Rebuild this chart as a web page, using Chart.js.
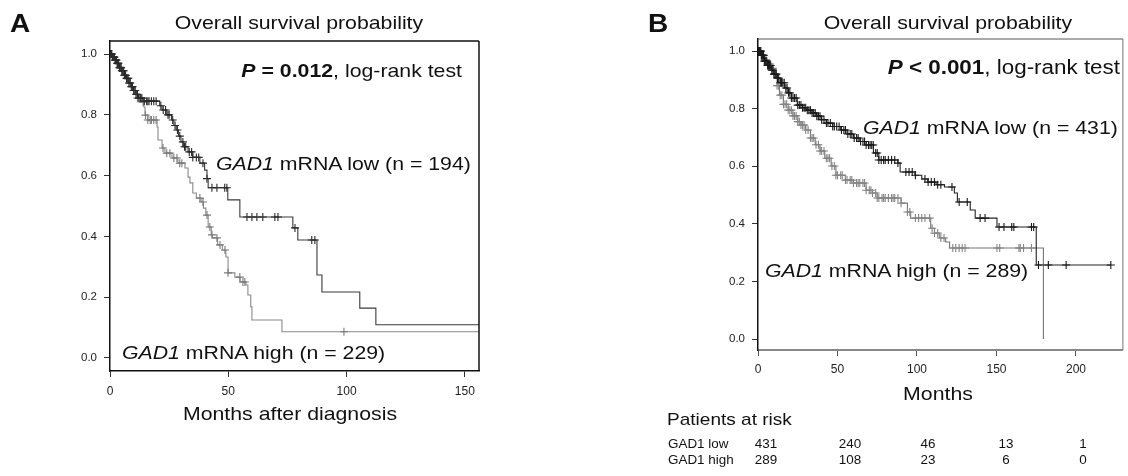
<!DOCTYPE html>
<html><head><meta charset="utf-8">
<script src="https://cdn.jsdelivr.net/npm/chart.js@4.4.1/dist/chart.umd.min.js"></script>
<style>
body{margin:0;width:1128px;height:476px;background:#fff;position:relative;overflow:hidden;font-family:'Liberation Sans',Arial,sans-serif;color:#111}
canvas{position:absolute;top:0}
#ca{left:0}
#cb{left:564px}
.t{position:absolute;white-space:nowrap;line-height:1;font-size:19px}
.l{transform-origin:0 50%;transform:translateY(-50%) scaleX(1.12)}
.c{transform-origin:50% 50%;transform:translate(-50%,-50%) scaleX(1.12)}
.r{transform-origin:100% 50%;transform:translate(-100%,-50%) scaleX(1.12)}
.big{font-weight:bold;font-size:25px}
.sm{font-size:12px}
</style>
</head><body>
<canvas id="ca" width="564" height="476"></canvas>
<canvas id="cb" width="564" height="476"></canvas>

<div class="t l big" style="left:10px;top:22.5px">A</div>
<div class="t c" style="left:299px;top:21.5px">Overall survival probability</div>
<div class="t r" style="left:462px;top:70px"><b><i>P</i> = 0.012</b>, log-rank test</div>
<div class="t l" style="left:216px;top:162.5px"><i>GAD1</i> mRNA low (n = 194)</div>
<div class="t l" style="left:122px;top:352px"><i>GAD1</i> mRNA high (n = 229)</div>
<div class="t c" style="left:290px;top:412.5px">Months after diagnosis</div>

<div class="t l big" style="left:648px;top:22.5px">B</div>
<div class="t c" style="left:947.5px;top:21.5px">Overall survival probability</div>
<div class="t r" style="left:1120px;top:67px;font-size:20px"><b><i>P</i> &lt; 0.001</b>, log-rank test</div>
<div class="t l" style="left:863px;top:127px"><i>GAD1</i> mRNA low (n = 431)</div>
<div class="t l" style="left:765px;top:269.5px"><i>GAD1</i> mRNA high (n = 289)</div>
<div class="t c" style="left:937.5px;top:392.5px">Months</div>
<div class="t l" style="left:667px;top:418.5px;font-size:17px">Patients at risk</div>
<div id="risk"></div>

<script>
// ---------------- Panel A data ----------------
const aXTicks = [0, 50, 100, 150];
const aYTicks = [0, 0.2, 0.4, 0.6, 0.8, 1.0];
const aLow = [[0,1],[1,0.99],[2,0.98],[3,0.97],[4,0.955],[5,0.945],[6,0.93],[7,0.92],[8,0.905],[9,0.893],[10,0.88],[11,0.868],[12,0.855],[14,0.845],[21,0.83],[22,0.816],[24,0.8],[26,0.783],[27,0.765],[28,0.75],[29,0.73],[30,0.711],[31,0.695],[33,0.678],[35,0.66],[38,0.641],[40,0.618],[41,0.59],[41.5,0.56],[49.8,0.52],[54.9,0.464],[77.3,0.428],[79.4,0.388],[87.5,0.273],[89.6,0.217],[105.6,0.164],[112.4,0.109],[156,0.109]];
const aHigh = [[0,1],[1,0.99],[2,0.98],[3,0.97],[4,0.955],[5,0.945],[6,0.93],[7,0.92],[8,0.905],[9,0.893],[10,0.88],[11,0.868],[11.4,0.855],[13.9,0.842],[14.3,0.826],[14.8,0.799],[16,0.783],[19.9,0.76],[20.3,0.717],[22,0.691],[23.2,0.674],[26.2,0.658],[28.7,0.641],[31.7,0.625],[33,0.595],[33.8,0.576],[35,0.543],[36.5,0.526],[38.5,0.513],[39.5,0.493],[40.5,0.47],[41.5,0.431],[42.8,0.405],[43.3,0.395],[45.5,0.372],[47.5,0.355],[49,0.332],[49.9,0.28],[52.8,0.266],[55,0.25],[57.5,0.24],[58.3,0.207],[59.5,0.168],[60,0.125],[72.7,0.086],[156,0.086]];
const aLowCensor = [0.2,0.4,0.6,0.8,1,1.2,1.4,1.6,1.8,2.1,2.4,2.7,3,3.3,3.6,4,4.3,4.7,5,5.4,5.8,6.2,6.6,7,7.5,8,8.5,9,9.5,10,10.5,11,11.6,12.2,13,13.5,14.5,15.5,16,16.5,17.5,18.5,19.5,21.5,22.5,23.5,24.5,25,26.5,27.5,28.5,29.5,30.8,31.5,32,33.5,34.5,35,36.5,37.5,39.3,41,43.1,45.2,48.5,49.4,57.9,60,62.1,64.6,69.7,71,78.2,85.3,86.6];
const aHighCensor = [0.5,1.2,1.8,2.5,3.2,4,4.6,5.2,6,6.5,7.2,7.8,8.6,9.3,10,10.8,11.6,12.4,13,14,15,16,17,17.5,18.5,19.5,22.4,24,25.3,27,28.3,29.5,30.4,38,39.3,41,42.2,43.1,45.2,46.5,48.6,49.9,54.9,56.2,57,98.9];

// ---------------- Panel B data ----------------
const bXTicks = [0, 50, 100, 150, 200];
const bYTicks = [0, 0.2, 0.4, 0.6, 0.8, 1.0];
const bLow = [[0,1],[2,0.985],[4,0.965],[6,0.95],[8.5,0.934],[10,0.92],[12.3,0.906],[14,0.89],[16.6,0.872],[19,0.855],[21,0.837],[24.7,0.8125],[28,0.803],[31,0.795],[34,0.785],[37,0.774],[40,0.762],[43,0.75],[47,0.738],[52,0.726],[56,0.712],[60,0.698],[64,0.686],[68,0.674],[72.6,0.646],[76,0.622],[88,0.611],[89.4,0.58],[98.7,0.569],[103,0.556],[106.8,0.545],[112,0.536],[117.3,0.528],[123.5,0.507],[125.4,0.476],[133.5,0.448],[136.6,0.42],[150.3,0.389],[175,0.257],[222,0.257]];
const bHigh = [[0,1],[2,0.985],[4,0.97],[6,0.955],[8,0.94],[10,0.92],[12,0.88],[13.5,0.847],[16,0.815],[19,0.795],[22,0.775],[25,0.755],[27,0.743],[30,0.726],[33,0.698],[36,0.675],[39,0.653],[42,0.628],[46,0.601],[49,0.569],[55,0.552],[60,0.542],[68,0.517],[72,0.507],[75,0.49],[90,0.472],[94,0.441],[96,0.42],[108.6,0.385],[111,0.368],[114,0.351],[118,0.337],[120.5,0.316],[179.5,0]];
const bLowCensor = [0.3,0.6,1,1.4,1.8,2.2,2.6,3,3.5,4,4.5,5,5.5,6,6.6,7.2,8,8.7,9.4,10,10.8,11.5,12.3,13,14,14.8,15.6,16.5,17.5,18.3,19.2,20,21,22,23,24,25,26,27,28,29,30,31,32,33,34,35,36,37,38,39,40,41.5,43,44,45.5,47,48,49.5,51,52.5,54,55,56.5,58,59,60.5,62,63,64.5,66,67,68,69.5,70.5,71.5,72.5,74,75,76,77.5,79,80,82,84,86,88,93,95,97,99,105,107,109,111,113,115,122,126.5,131.6,139.7,142.8,151.6,154.7,159.6,160.9,172,173.4,176.4,182.6,193.8,221.9];
const bHighCensor = [0.5,1.2,2,2.8,3.5,4.3,5,6,6.8,7.6,8.5,9.3,10.2,11,12,13,14,15,16,17,18,19,20,21,22,23,24,25,26,27,28,29,30,31.5,33,34,35,36.5,38,39,40,41.5,43,44,45,46.5,48,49,50,52,53,55,56,58,59,60,62,63,64,66,67,68,70,71,72,74,75,76,78,79,80,82,84,85,86,88,90,94,95.5,99,101,103,105,108,109.5,111,113,115,117,122.5,124.4,126.5,128.4,130.2,150.3,152,164.1,165,167,172];

// Patients at risk
const riskGroups = ['GAD1 low', 'GAD1 high'];
const riskLow = [431, 240, 46, 13, 1];
const riskHigh = [289, 108, 23, 6, 0];

// ---------------- helpers ----------------
const FONT = "'Liberation Sans', Arial, sans-serif";
function stepData(p){ return p.map(q => ({x:q[0], y:q[1]})); }
function survAt(p, t){ let s = p[0][1]; for (const q of p){ if (q[0] <= t) s = q[1]; else break; } return s; }
function censorData(p, times){ return times.map(t => ({x:t, y:survAt(p, t)})); }

const boxPlugin = {
  id: 'box',
  afterDatasetsDraw(chart, args, opts){
    const a = chart.chartArea, ctx = chart.ctx;
    ctx.save();
    if (opts.top){ ctx.strokeStyle = opts.top.color; ctx.lineWidth = opts.top.width; ctx.beginPath(); ctx.moveTo(a.left, a.top); ctx.lineTo(a.right, a.top); ctx.stroke(); }
    if (opts.right){ ctx.strokeStyle = opts.right.color; ctx.lineWidth = opts.right.width; ctx.beginPath(); ctx.moveTo(a.right, a.top); ctx.lineTo(a.right, a.bottom); ctx.stroke(); }
    ctx.restore();
  }
};

function panel(id, o){
  const cross = (data, color) => ({data, showLine:false, pointStyle:'cross', pointRadius:4, pointBorderColor:color, pointBorderWidth:1.1, pointBackgroundColor:color});
  const line = (data, color) => ({data, showLine:true, stepped:'before', borderColor:color, borderWidth:1.1, pointRadius:0, fill:false});
  new Chart(document.getElementById(id), {
    type: 'scatter',
    data: { datasets: [
      cross(censorData(o.low, o.lowC), o.lowCross),
      line(stepData(o.low), o.lowLine),
      cross(censorData(o.high, o.highC), o.highCross),
      line(stepData(o.high), o.highLine)
    ]},
    plugins: [boxPlugin],
    options: {
      responsive:false, animation:false, events:[],
      layout:{ padding:o.pad },
      plugins:{ legend:{display:false}, tooltip:{enabled:false}, box:o.box },
      scales:{
        x:{ type:'linear', min:0, max:o.xMax,
          afterBuildTicks:s => { s.ticks = o.xTicks.map(v => ({value:v})); },
          afterFit:s => { s.height = 60; },
          ticks:{ font:{family:FONT, size:12}, color:'#222', padding:o.xPad, maxRotation:0, callback:v => String(v) },
          grid:{ drawOnChartArea:false, drawTicks:true, tickLength:6, tickColor:o.xTickColor, tickWidth:1 },
          border:{ display:true, color:o.xBorder, width:o.xBorderW }
        },
        y:{ type:'linear', min:o.yMin, max:o.yMax,
          afterBuildTicks:s => { s.ticks = o.yTicks.map(v => ({value:v})); },
          afterFit:s => { s.width = 50; },
          ticks:{ font:{family:FONT, size:11.5}, color:'#222', padding:7, callback:v => v.toFixed(1) },
          grid:{ drawOnChartArea:false, drawTicks:true, tickLength:6, tickColor:'#333', tickWidth:1 },
          border:{ display:true, color:'#111', width:1.5 }
        }
      }
    }
  });
}

panel('ca', {
  low:aLow, high:aHigh, lowC:aLowCensor, highC:aHighCensor,
  lowLine:'#3a3a3a', highLine:'#8a8a8a', lowCross:'#2a2a2a', highCross:'#7a7a7a',
  xMax:156, xTicks:aXTicks, yTicks:aYTicks, yMin:-0.043, yMax:1.043,
  pad:{left:60, top:41, right:85, bottom:45}, xPad:7,
  xBorder:'#111', xBorderW:1.5, xTickColor:'#333',
  box:{ top:{color:'#111', width:1.5}, right:{color:'#111', width:1.5} }
});

panel('cb', {
  low:bLow, high:bHigh, lowC:bLowCensor, highC:bHighCensor,
  lowLine:'#222', highLine:'#777', lowCross:'#1a1a1a', highCross:'#858585',
  xMax:229.5, xTicks:bXTicks, yTicks:bYTicks, yMin:-0.038, yMax:1.042,
  pad:{left:144, top:39, right:1, bottom:66}, xPad:6,
  xBorder:'#888', xBorderW:2, xTickColor:'#555',
  box:{ top:{color:'#555', width:1}, right:{color:'#777', width:1} }
});

// risk table
const risk = document.getElementById('risk');
const colX = [766, 850, 928, 1006, 1083];
[[riskGroups[0], riskLow, 443.5], [riskGroups[1], riskHigh, 459.5]].forEach(([name, vals, y]) => {
  const d = document.createElement('div');
  d.className = 't l sm'; d.style.left = '668px'; d.style.top = y + 'px'; d.textContent = name;
  risk.appendChild(d);
  vals.forEach((v, i) => {
    const e = document.createElement('div');
    e.className = 't c sm'; e.style.left = colX[i] + 'px'; e.style.top = y + 'px'; e.textContent = v;
    risk.appendChild(e);
  });
});
</script>
</body></html>
